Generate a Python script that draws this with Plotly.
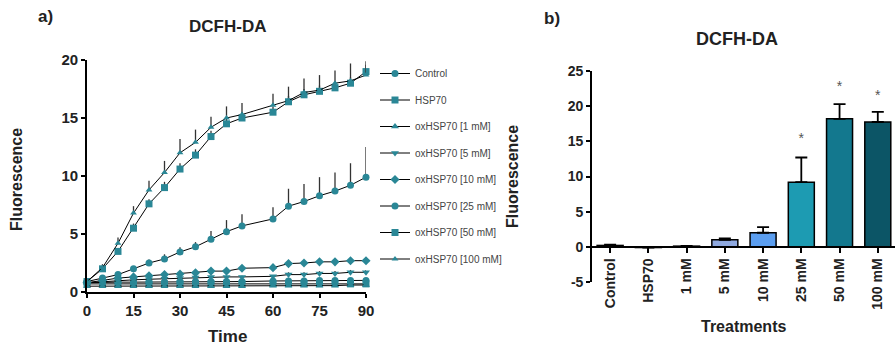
import plotly.graph_objects as go

# ---------------- data: panel a) ----------------
time = [0, 5, 10, 15, 20, 25, 30, 35, 40, 45, 50, 60, 65, 70, 75, 80, 85, 90]

series_names = ["Control", "HSP70", "oxHSP70 [1 mM]", "oxHSP70 [5 mM]",
                "oxHSP70 [10 mM]", "oxHSP70 [25 mM]", "oxHSP70 [50 mM]", "oxHSP70 [100 mM]"]

control = [0.8, 0.85, 0.85, 0.85, 0.85, 0.85, 0.9, 0.9, 0.9, 0.9, 0.9, 0.95, 0.95, 0.95, 1.0, 1.0, 1.0, 1.0]
hsp70 = [0.7, 0.7, 0.7, 0.7, 0.7, 0.7, 0.7, 0.7, 0.7, 0.7, 0.7, 0.7, 0.7, 0.7, 0.7, 0.7, 0.7, 0.7]
ox1 = [0.5, 0.5, 0.5, 0.5, 0.5, 0.5, 0.5, 0.5, 0.5, 0.5, 0.5, 0.55, 0.55, 0.55, 0.55, 0.55, 0.6, 0.6]
ox5 = [0.8, 0.9, 1.0, 1.05, 1.1, 1.15, 1.2, 1.25, 1.3, 1.3, 1.3, 1.35, 1.5, 1.5, 1.6, 1.6, 1.7, 1.7]
ox10 = [0.8, 1.0, 1.2, 1.3, 1.4, 1.5, 1.55, 1.65, 1.8, 1.8, 2.05, 2.1, 2.45, 2.5, 2.6, 2.6, 2.7, 2.7]
ox25 = [0.9, 1.2, 1.5, 2.0, 2.5, 2.85, 3.45, 3.9, 4.55, 5.2, 5.7, 6.3, 7.4, 7.8, 8.3, 8.7, 9.2, 9.9]
ox50 = [0.9, 2.0, 3.5, 5.5, 7.6, 9.0, 10.6, 11.8, 13.4, 14.5, 15.0, 15.5, 16.4, 17.0, 17.3, 17.6, 18.0, 19.0]
ox100 = [0.9, 2.1, 4.2, 6.8, 8.8, 10.3, 12.0, 12.9, 14.2, 15.0, 15.3, 16.1, 16.5, 17.2, 17.4, 18.0, 18.2, 18.7]

err_control = [0.1] * 18
err_hsp70 = [0.1] * 18
err_ox1 = [0.1] * 18
err_ox5 = [0.1, 0.1, 0.1, 0.1, 0.1, 0.1, 0.1, 0.1, 0.1, 0.1, 0.1, 0.1, 0.2, 0.2, 0.2, 0.2, 0.2, 0.2]
err_ox10 = [0.1, 0.1, 0.1, 0.1, 0.1, 0.1, 0.1, 0.1, 0.1, 0.1, 0.1, 0.1, 0.1, 0.1, 0.1, 0.1, 0.1, 0.1]
err_ox25 = [0.1, 0.1, 0.2, 0.2, 0.3, 0.4, 0.4, 0.4, 0.7, 1.0, 1.0, 1.0, 1.5, 1.5, 1.6, 1.6, 1.9, 2.6]
err_ox50 = [0.1, 0.2, 0.3, 0.4, 0.4, 0.5, 0.5, 0.5, 0.5, 0.5, 0.5, 0.5, 0.5, 0.5, 0.5, 0.5, 0.5, 0.6]
err_ox100 = [0.2, 0.3, 0.5, 0.6, 0.8, 1.0, 1.2, 1.1, 0.9, 1.0, 1.0, 1.0, 1.2, 1.2, 1.3, 1.1, 1.5, 1.2]

symbols = ["circle", "square", "triangle-up", "triangle-down", "diamond", "circle", "square", "triangle-up"]
marker_sizes = [7, 7, 7, 7, 7, 7, 7, 6]

x_ticks_a = [0, 15, 30, 45, 60, 75, 90]
y_ticks_a = [0, 5, 10, 15, 20]

# ---------------- data: panel b) ----------------
treatments = ["Control", "HSP70", "1 mM", "5 mM", "10 mM", "25 mM", "50 mM", "100 mM"]
bar_values = [0.2, -0.1, 0.1, 1.0, 2.0, 9.2, 18.2, 17.75]
bar_errors = [0.1, 0.05, 0.05, 0.2, 0.8, 3.5, 2.1, 1.45]
bar_colors = ["#9a9a9a", "#9a9a9a", "#9a9a9a", "#8fa9e0", "#5b9ef0", "#1d9bb2", "#13788e", "#0c5566"]
sig_labels = ["", "", "", "", "", "*", "*", "*"]
sig_y = [None, None, None, None, None, 15.2, 22.6, 21.4]
y_ticks_b = [-5, 0, 5, 10, 15, 20, 25]
y_ticktext_b = ["-5", "0", "5", "10", "15", "20", "25"]

# ---------------- figure ----------------
W, H = 895, 351
TEAL = "#2a8796"
ARIAL = "Liberation Sans, Arial, sans-serif"

fig = go.Figure()

all_y = [control, hsp70, ox1, ox5, ox10, ox25, ox50, ox100]
all_e = [err_control, err_hsp70, err_ox1, err_ox5, err_ox10, err_ox25, err_ox50, err_ox100]
for i, name in enumerate(series_names):
    fig.add_trace(go.Scatter(
        x=time, y=all_y[i], name=name, mode="lines+markers",
        legendgroup=f"g{i}",
        line=dict(color="black", width=1),
        marker=dict(symbol=symbols[i], size=marker_sizes[i], color=TEAL,
                    line=dict(width=0)),
        error_y=dict(type="data", symmetric=False, array=all_e[i],
                     arrayminus=[0] * len(all_e[i]), color="#333333",
                     thickness=1.3, width=0),
        cliponaxis=False, xaxis="x", yaxis="y",
    ))

fig.add_trace(go.Bar(
    x=treatments, y=bar_values, width=0.68, showlegend=False,
    marker=dict(color=bar_colors, line=dict(color="black", width=1.5)),
    error_y=dict(type="data", symmetric=False, array=bar_errors,
                 arrayminus=[0] * len(bar_errors), color="black",
                 thickness=1.8, width=6),
    xaxis="x2", yaxis="y2",
))

fig.add_trace(go.Scatter(
    x=treatments, y=sig_y, text=sig_labels, mode="text", showlegend=False,
    textfont=dict(family=ARIAL, size=14, color="#555555"),
    textposition="middle center", xaxis="x2", yaxis="y2", cliponaxis=False,
))

axis_common = dict(showgrid=False, zeroline=False, showline=True, linecolor="black",
                   linewidth=1.6, ticks="outside", tickcolor="black", tickwidth=1.6,
                   ticklen=4, automargin=False)

fig.update_layout(
    width=W, height=H, autosize=False,
    margin=dict(l=0, r=0, t=0, b=0, pad=0, autoexpand=False),
    paper_bgcolor="white", plot_bgcolor="white",
    showlegend=True,
    legend=dict(x=375 / W, y=1 - 59 / H, xanchor="left", yanchor="top",
                font=dict(family=ARIAL, size=10, color="#444444"),
                tracegroupgap=7.5, bgcolor="rgba(0,0,0,0)"),
    xaxis=dict(domain=[87 / W, 366 / W], range=[0, 90], tickvals=x_ticks_a,
               tickfont=dict(family=ARIAL, size=15, color="#222222", weight="bold"),
               anchor="y", **axis_common),
    yaxis=dict(domain=[1 - 292 / H, 1 - 60 / H], range=[0, 20], tickvals=y_ticks_a,
               tickfont=dict(family=ARIAL, size=15, color="#222222", weight="bold"),
               anchor="x", **axis_common),
    xaxis2=dict(domain=[591 / W, 1.0], range=[-0.5, 7.45], tickangle=-90,
                tickfont=dict(family=ARIAL, size=14, color="#222222", weight="bold"),
                anchor="free", position=1 - 247 / H, **{**axis_common, "ticklen": 5}),
    yaxis2=dict(domain=[1 - 282 / H, 1 - 71 / H], range=[-5, 25], tickvals=y_ticks_b,
                ticktext=y_ticktext_b,
                tickfont=dict(family=ARIAL, size=14, color="#222222", weight="bold"),
                anchor="free", position=591 / W, **axis_common),
)

ann = [
    dict(text="a)", x=45 / W, y=1 - 17 / H, font=dict(family=ARIAL, size=17, color="#222222", weight="bold")),
    dict(text="DCFH-DA", x=227 / W, y=1 - 27 / H, font=dict(family=ARIAL, size=17, color="#222222", weight="bold")),
    dict(text="Time", x=227 / W, y=1 - 336 / H, font=dict(family=ARIAL, size=17, color="#222222", weight="bold")),
    dict(text="Fluorescence", x=17 / W, y=1 - 180 / H, textangle=-90, font=dict(family=ARIAL, size=16, color="#222222", weight="bold")),
    dict(text="b)", x=552 / W, y=1 - 18 / H, font=dict(family=ARIAL, size=17, color="#222222", weight="bold")),
    dict(text="DCFH-DA", x=737 / W, y=1 - 39 / H, font=dict(family=ARIAL, size=18, color="#222222", weight="bold")),
    dict(text="Treatments", x=743 / W, y=1 - 326 / H, font=dict(family=ARIAL, size=16, color="#222222", weight="bold")),
    dict(text="Fluorescence", x=512 / W, y=1 - 176 / H, textangle=-90, font=dict(family=ARIAL, size=16, color="#222222", weight="bold")),
]
for a in ann:
    a.update(xref="paper", yref="paper", showarrow=False, xanchor="center", yanchor="middle")
fig.update_layout(annotations=ann)

fig.write_html("out.html")
